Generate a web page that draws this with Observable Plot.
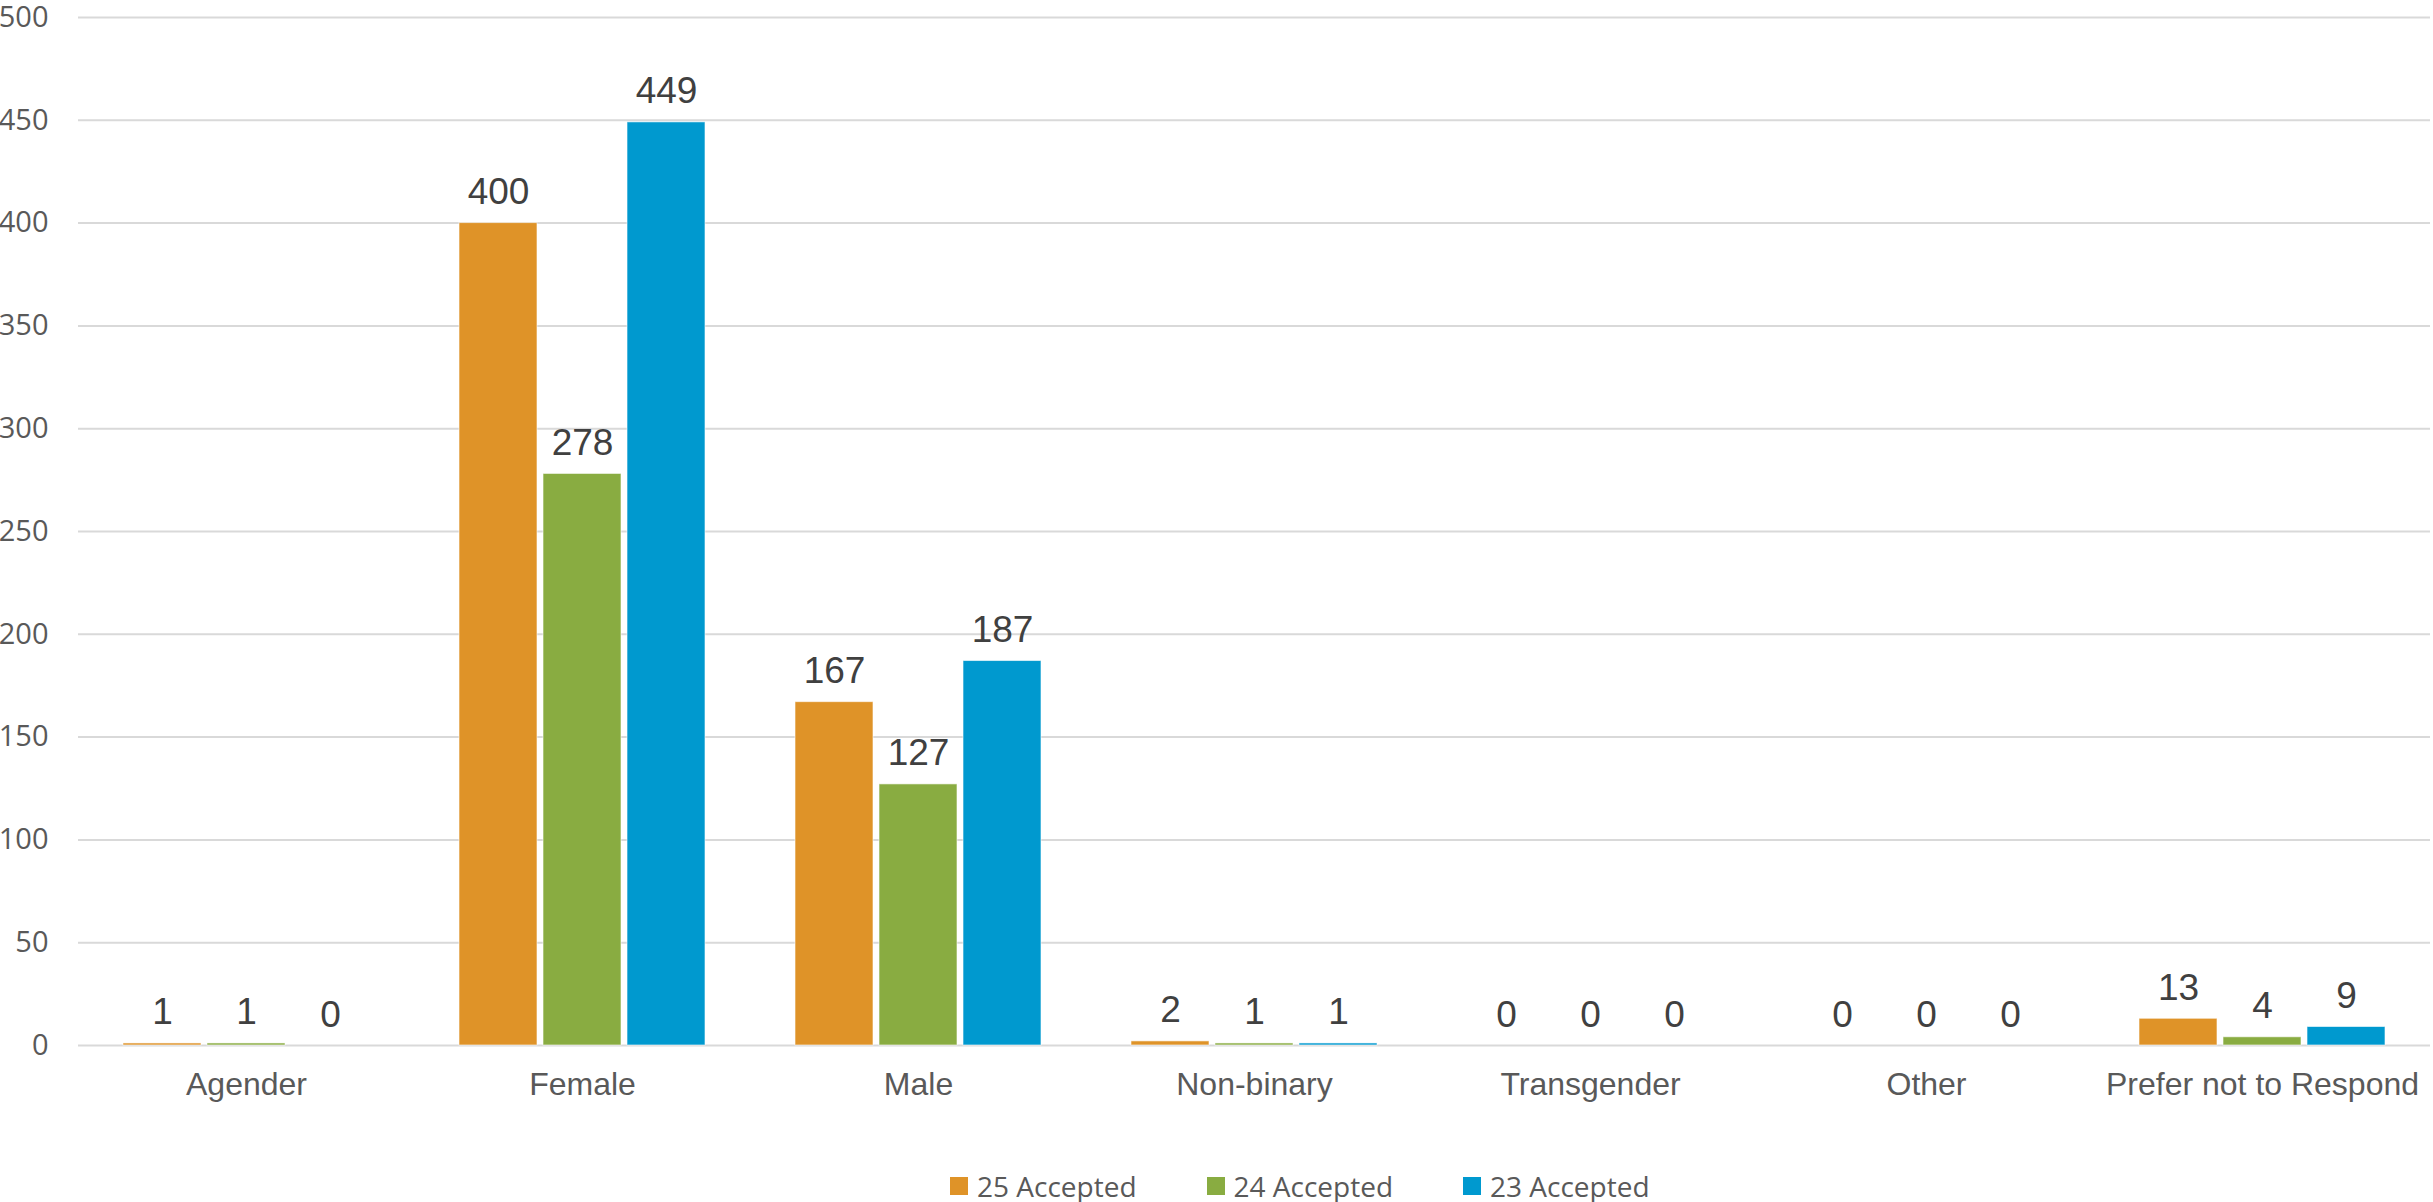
<!DOCTYPE html>
<html>
<head>
<meta charset="utf-8">
<script src="https://cdn.jsdelivr.net/npm/d3@7"></script>
<script src="https://cdn.jsdelivr.net/npm/@observablehq/plot@0.6"></script>
<style>
  html, body { margin: 0; padding: 0; background: #fff; }
  #chart { width: 2433px; }
  #legend { position: relative; height: 52px; width: 2433px; font-family: "Open Sans", sans-serif; font-size: 28px; color: #595959; }
  #legend .items { position: absolute; left: 950px; top: 17px; display: flex; align-items: center; }
  #legend .item { display: flex; align-items: center; margin-right: 70px; }
  #legend .sw { width: 18px; height: 18px; margin-right: 9px; }
</style>
</head>
<body>
<div id="chart"></div>
<div id="legend"><div class="items"></div></div>
<script>
const categories = ["Agender", "Female", "Male", "Non-binary", "Transgender", "Other", "Prefer not to Respond"];
const series = ["25 Accepted", "24 Accepted", "23 Accepted"];
const colors = ["#DF9328", "#89AC41", "#0099CF"];
const v25 = [1, 400, 167, 2, 0, 0, 13];
const v24 = [1, 278, 127, 1, 0, 0, 4];
const v23 = [0, 449, 187, 1, 0, 0, 9];
const yTicks = [0, 50, 100, 150, 200, 250, 300, 350, 400, 450, 500];

const valuesBySeries = [v25, v24, v23];
const rows = [];
categories.forEach((c, i) => {
  series.forEach((s, j) => rows.push({category: c, series: s, value: valuesBySeries[j][i]}));
});

const chart = Plot.plot({
  width: 2433,
  height: 1150,
  marginTop: 17,
  marginBottom: 105,
  marginLeft: 78,
  marginRight: 3,
  style: {fontFamily: "'Liberation Sans', Arial, sans-serif", background: "#fff"},
  fx: {domain: categories, paddingInner: 0.262, paddingOuter: 0.131, label: null, axis: null},
  x: {domain: series, paddingInner: 0.07, paddingOuter: 0, axis: null},
  y: {domain: [0, 500], ticks: yTicks, label: null, axis: null},
  color: {domain: series, range: colors},
  marks: [
    Plot.gridY(yTicks, {stroke: "#d9d9d9", strokeOpacity: 1, strokeWidth: 2, insetLeft: -44, insetRight: -44}),
    Plot.axisY(yTicks, {tickSize: 0, tickPadding: 74, fontSize: 29, fontFamily: "'Open Sans', sans-serif", fill: "#595959", label: null}),
    Plot.axisFx({anchor: "bottom", tickSize: 0, tickPadding: 27, fontSize: 32, fill: "#595959", label: null}),
    Plot.barY(rows, {fx: "category", x: "series", y: "value", fill: "series", stroke: "#ffffff", strokeWidth: 1, strokeOpacity: 0.6}),
    Plot.text(rows, {fx: "category", x: "series", y: "value", text: d => String(d.value), dy: -19, lineAnchor: "bottom", fontSize: 37, fill: "#404040"})
  ]
});
document.getElementById("chart").appendChild(chart);

const items = d3.select("#legend .items");
series.forEach((s, i) => {
  const it = items.append("div").attr("class", "item");
  it.append("div").attr("class", "sw").style("background", colors[i]);
  it.append("span").text(s);
});
</script>
</body>
</html>
